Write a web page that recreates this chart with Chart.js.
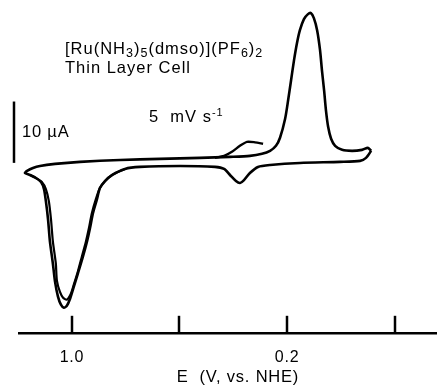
<!DOCTYPE html>
<html lang="en">
<head>
  <meta charset="UTF-8">
  <title>Thin layer cyclic voltammogram</title>
  <script src="https://cdn.jsdelivr.net/npm/chart.js"></script>
  <style>
    html, body {
      margin: 0;
      padding: 0;
      background: #fff;
    }
    #wrap {
      width: 437px;
      height: 386px;
      position: relative;
    }
  </style>
</head>
<body>

<div id="wrap"><canvas id="cv"></canvas></div>

<script>
// potential (V vs NHE) and current (uA)
// main loop: lower branch right -> left, then upper branch back to the right
const loopE = [-0.113, -0.094, -0.072, 0.003, 0.152, 0.263, 0.308, 0.338, 0.360, 0.375,
  0.390, 0.412, 0.434, 0.468, 0.598, 0.747, 0.803, 0.851, 0.877, 0.896,
  0.907, 0.922, 0.933, 0.944, 0.959, 0.978, 0.993, 1.007, 1.019, 1.030,
  1.041, 1.052, 1.063, 1.071, 1.082, 1.089, 1.097, 1.104, 1.115, 1.134,
  1.156, 1.175, 1.167, 1.145, 1.119, 1.063, 0.970, 0.821, 0.673, 0.524,
  0.412, 0.338, 0.293, 0.263, 0.241, 0.226, 0.207, 0.196, 0.185, 0.174,
  0.163, 0.152, 0.137, 0.122, 0.111, 0.100, 0.088, 0.077, 0.070, 0.062,
  0.055, 0.047, 0.036, 0.021, -0.005, -0.042, -0.079, -0.101, -0.113];
const loopI = [2.46, 1.31, 0.82, 0.66, 0.49, 0.16, -0.16, -1.15, -2.30, -2.79,
  -2.46, -1.48, -0.49, -0.16, 0, -0.16, -0.49, -1.48, -2.46, -3.61,
  -5.41, -7.70, -10.16, -12.30, -14.75, -17.54, -19.67, -21.64, -22.79, -23.11,
  -22.62, -21.31, -18.85, -15.90, -12.30, -8.69, -5.74, -3.77, -2.62, -1.97,
  -1.48, -1.15, -0.82, -0.33, 0, 0.33, 0.66, 0.98, 1.15, 1.31,
  1.48, 1.64, 1.97, 2.46, 3.28, 4.59, 7.70, 10.66, 13.93, 17.21,
  20.0, 22.13, 23.93, 24.75, 24.92, 24.10, 22.13, 18.85, 15.57, 12.30,
  9.02, 6.39, 4.43, 3.28, 2.62, 2.46, 2.62, 2.95, 2.46];

// small shoulder at the start of the scan
const bumpE = [0.289, 0.319, 0.349, 0.375, 0.405, 0.434, 0.468];
const bumpI = [3.61, 3.85, 3.93, 3.28, 2.30, 1.64, 1.31];

// second sweep through the big anodic wave
const sweep2E = [0.803, 0.851, 0.877, 0.896, 0.911, 0.926, 0.937, 0.948, 0.963, 0.978,
  0.993, 1.004, 1.019, 1.033, 1.045, 1.056, 1.060, 1.071, 1.078, 1.086,
  1.097, 1.112, 1.134, 1.156];
const sweep2I = [-0.49, -1.48, -2.46, -3.61, -5.41, -7.70, -10.16, -12.30, -14.75, -17.21,
  -19.34, -20.82, -21.80, -21.48, -20.49, -18.69, -15.90, -12.30, -8.69, -5.74,
  -3.77, -2.62, -1.97, -1.48];

const tickValues = [1.0, 0.6, 0.2, -0.2];
const tickLabels = ['1.0', '', '0.2', ''];

const FONT = '"Liberation Sans", Arial, Helvetica, sans-serif';

function pts(xs, ys) {
  return xs.map((x, i) => ({x: x, y: ys[i]}));
}

// text with sub/superscripts: parts = [[text, 0 normal | 1 sub | 2 sup], ...]
function drawRich(ctx, parts, x, y) {
  parts.forEach(p => {
    let size = 16.5, dy = 0;
    if (p[1] === 1) { size = 12.5; dy = 3; }
    if (p[1] === 2) { size = 11; dy = -6; }
    ctx.font = size + 'px ' + FONT;
    ctx.fillText(p[0], x, y + dy);
    x += ctx.measureText(p[0]).width;
  });
}

const extras = {
  id: 'extras',
  beforeDraw(chart) {
    chart.ctx.letterSpacing = '0.8px';
  },
  afterDatasetsDraw(chart) {
    const ctx = chart.ctx;
    const xs = chart.scales.x;
    const ys = chart.scales.y;
    const bottom = chart.chartArea.bottom;
    ctx.save();
    ctx.strokeStyle = '#000';
    ctx.lineWidth = 2.5;
    // ticks pointing up into the plot
    tickValues.forEach(v => {
      const px = Math.round(xs.getPixelForValue(v));
      ctx.beginPath();
      ctx.moveTo(px, bottom);
      ctx.lineTo(px, bottom - 17);
      ctx.stroke();
    });
    // 10 uA scale bar
    ctx.beginPath();
    ctx.moveTo(14, ys.getPixelForValue(10.5));
    ctx.lineTo(14, ys.getPixelForValue(0.5));
    ctx.stroke();

    ctx.fillStyle = '#000';
    ctx.textBaseline = 'alphabetic';
    ctx.textAlign = 'left';
    ctx.letterSpacing = '1px';
    drawRich(ctx, [['[Ru(NH', 0], ['3', 1], [')', 0], ['5', 1], ['(dmso)](PF', 0], ['6', 1], [')', 0], ['2', 1]], 65, 54);
    drawRich(ctx, [['Thin Layer Cell', 0]], 65, 73);
    drawRich(ctx, [['5  mV s', 0], ['-1', 2]], 149, 122);
    ctx.letterSpacing = '0.8px';
    drawRich(ctx, [['10 \u00b5A', 0]], 22, 137);
    ctx.font = '16.5px ' + FONT;
    ctx.textAlign = 'center';
    ctx.fillText('E  (V, vs. NHE)', 238, 382);
    ctx.restore();
  }
};

const lineStyle = {
  showLine: true,
  borderColor: '#000',
  pointRadius: 0,
  tension: 0.25,
  fill: false
};

new Chart(document.getElementById('cv'), {
  type: 'scatter',
  data: {
    datasets: [
      Object.assign({label: 'cycle 1', data: pts(loopE, loopI), borderWidth: 2.6}, lineStyle),
      Object.assign({label: 'shoulder', data: pts(bumpE, bumpI), borderWidth: 2.4}, lineStyle),
      Object.assign({label: 'cycle 2', data: pts(sweep2E, sweep2I), borderWidth: 2.2}, lineStyle)
    ]
  },
  options: {
    responsive: true,
    maintainAspectRatio: false,
    animation: false,
    layout: {
      padding: {left: 19, right: 0, top: 0, bottom: 4}
    },
    plugins: {
      legend: {display: false},
      tooltip: {enabled: false}
    },
    scales: {
      x: {
        type: 'linear',
        reverse: true,
        min: -0.358,
        max: 1.197,
        afterBuildTicks: scale => {
          scale.ticks = tickValues.map(v => ({value: v}));
        },
        ticks: {
          padding: 15,
          color: '#000',
          maxRotation: 0,
          autoSkip: false,
          font: {family: FONT, size: 16},
          callback: (value, index) => tickLabels[index]
        },
        grid: {
          display: true,
          drawOnChartArea: false,
          drawTicks: false
        },
        border: {
          display: true,
          color: '#000',
          width: 2.5
        }
      },
      y: {
        display: false,
        min: -27.2,
        max: 27.05
      }
    }
  },
  plugins: [extras]
});
</script>

</body>
</html>
